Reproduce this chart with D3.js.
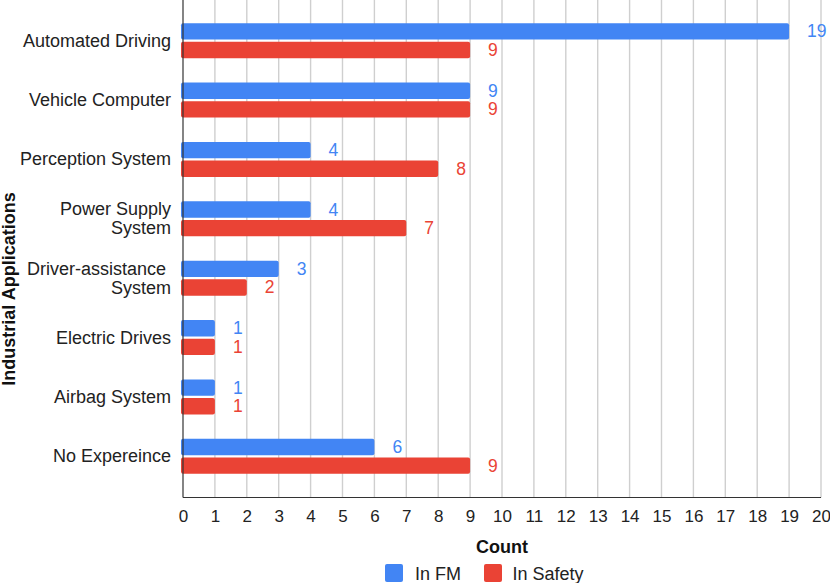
<!DOCTYPE html>
<html>
<head>
<meta charset="utf-8">
<script src="https://cdn.jsdelivr.net/npm/d3@7"></script>
<style>
  body { margin: 0; background: #fff; }
  svg { font-family: "Liberation Sans", Arial, sans-serif; }
</style>
</head>
<body>
<div id="chart"></div>
<script>
// data
var categories = [
    "Automated Driving",
    "Vehicle Computer",
    "Perception System",
    "Power Supply\nSystem",
    "Driver-assistance \nSystem",
    "Electric Drives",
    "Airbag System",
    "No Expereince"
];
var seriesNames = ["In FM", "In Safety"];
var inFM = [19, 9, 4, 4, 3, 1, 1, 6];
var inSafety = [9, 9, 8, 7, 2, 1, 1, 9];
var xTicks = d3.range(0, 21);
var colors = ["#4285F4", "#EA4335"];

var width = 830, height = 583;
var margin = {top: 0, left: 183, right: 9, bottom: 86};

var svg = d3.select('#chart').append('svg')
    .attr('width', width)
    .attr('height', height);

var plotBottom = height - margin.bottom + 0.5;

var x = d3.scaleLinear()
    .domain([0, 20])
    .range([margin.left, width - margin.right]);

var y = d3.scaleBand()
    .domain(categories)
    .range([11, 486]);

var ySub = d3.scaleBand()
    .domain(seriesNames)
    .range([y.bandwidth() / 2 - 17.5, y.bandwidth() / 2 + 17.5])
    .paddingInner(0.12);

// gridlines
svg.append('g')
    .selectAll('line')
    .data(xTicks.filter(d => d > 0))
    .enter().append('line')
    .attr('x1', d => x(d))
    .attr('x2', d => x(d))
    .attr('y1', margin.top)
    .attr('y2', plotBottom)
    .attr('stroke', '#cfcfcf')
    .attr('stroke-width', 1.4);

// x axis
var xAxis = svg.append('g')
    .attr('transform', 'translate(0,' + plotBottom + ')')
    .call(d3.axisBottom(x).tickValues(xTicks).tickSize(0).tickPadding(12.5).tickFormat(d3.format('d')));
xAxis.select('path').remove();
xAxis.selectAll('text')
    .attr('fill', '#222')
    .style('font-size', '17px');

// bars
var rows = categories.map((c, i) => ({cat: c, values: [inFM[i], inSafety[i]]}));

var group = svg.append('g')
    .selectAll('g')
    .data(rows)
    .enter().append('g')
    .attr('transform', d => 'translate(0,' + y(d.cat) + ')');

group.selectAll('rect')
    .data(d => d.values.map((v, j) => ({name: seriesNames[j], value: v, j: j})))
    .enter().append('rect')
    .attr('x', x(0) - 2)
    .attr('y', d => ySub(d.name))
    .attr('width', d => x(d.value) - x(0) + 2)
    .attr('height', ySub.bandwidth())
    .attr('rx', 2)
    .attr('fill', d => colors[d.j]);

group.selectAll('text.value')
    .data(d => d.values.map((v, j) => ({name: seriesNames[j], value: v, j: j})))
    .enter().append('text')
    .attr('class', 'value')
    .attr('x', d => x(d.value) + 18)
    .attr('y', d => ySub(d.name) + ySub.bandwidth() / 2 + 6)
    .attr('fill', d => colors[d.j])
    .style('font-size', '17.5px')
    .text(d => d.value);

// category labels
var catLabels = svg.append('g')
    .selectAll('text')
    .data(categories)
    .enter().append('text')
    .attr('text-anchor', 'end')
    .attr('fill', '#222')
    .style('font-size', '18px')
    .style('white-space', 'pre')
    .attr('y', d => y(d) + y.bandwidth() / 2);

catLabels.each(function(d) {
    var lines = d.split('\n');
    var t = d3.select(this);
    lines.forEach((line, k) => {
        t.append('tspan')
            .attr('x', 171)
            .attr('dy', k === 0 ? (6 - (lines.length - 1) * 9.5) : 19)
            .text(line);
    });
});

// axis lines
svg.append('line')
    .attr('x1', x(0)).attr('x2', x(0))
    .attr('y1', margin.top).attr('y2', plotBottom)
    .attr('stroke', '#333').attr('stroke-width', 1.2);
svg.append('line')
    .attr('x1', x(0)).attr('x2', x(20))
    .attr('y1', plotBottom).attr('y2', plotBottom)
    .attr('stroke', '#333').attr('stroke-width', 1.2);

// axis titles
svg.append('text')
    .attr('x', (x(0) + x(20)) / 2)
    .attr('y', 552.5)
    .attr('text-anchor', 'middle')
    .attr('fill', '#111')
    .style('font-size', '18px')
    .style('font-weight', 'bold')
    .text('Count');

svg.append('text')
    .attr('transform', 'translate(15,289) rotate(-90)')
    .attr('text-anchor', 'middle')
    .attr('fill', '#111')
    .style('font-size', '18px')
    .style('font-weight', 'bold')
    .text('Industrial Applications');

// legend
var legendX = [385, 484];
var legendTextX = [30, 28.5];
var legend = svg.append('g')
    .selectAll('g')
    .data(seriesNames)
    .enter().append('g')
    .attr('transform', (d, i) => 'translate(' + legendX[i] + ',564)');

legend.append('rect')
    .attr('width', 18)
    .attr('height', 18)
    .attr('rx', 2)
    .attr('fill', (d, i) => colors[i]);

legend.append('text')
    .attr('x', (d, i) => legendTextX[i])
    .attr('y', 16)
    .attr('fill', '#222')
    .style('font-size', '18px')
    .text(d => d);
</script>
</body>
</html>
